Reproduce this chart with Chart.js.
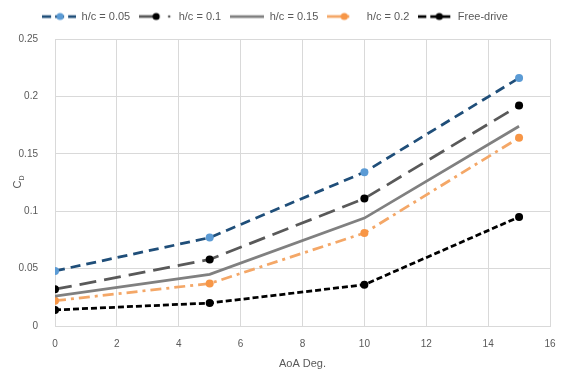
<!DOCTYPE html>
<html>
<head>
<meta charset="utf-8">
<script src="https://cdn.jsdelivr.net/npm/chart.js@4.4.1/dist/chart.umd.min.js"></script>
<style>
  html, body { margin: 0; padding: 0; background: #fff; }
  #wrap { width: 569px; height: 371px; position: relative; }
</style>
</head>
<body>
<div id="wrap"><canvas id="cdChart"></canvas></div>
<script>
// drag coefficient vs angle of attack, one series per gap ratio
const aoa = [0, 5, 10, 15];
const cdHc005 = [0.048, 0.077, 0.134, 0.216];
const cdHc01 = [0.032, 0.058, 0.111, 0.192];
const cdHc015 = [0.026, 0.045, 0.094, 0.174];
const cdHc02 = [0.022, 0.037, 0.081, 0.164];
const cdFree = [0.014, 0.020, 0.036, 0.095];
const seriesNames = ['h/c = 0.05', 'h/c = 0.1', 'h/c = 0.15', 'h/c = 0.2', 'Free-drive'];

const FONT = '"Liberation Sans", Arial, sans-serif';
const TEXT = '#595959';

function pts(ys){ return ys.map((y, i) => ({ x: aoa[i], y })); }

// little line+marker sample for the legend
function swatch(s){
  const c = document.createElement('canvas');
  c.width = 34; c.height = 12;
  const g = c.getContext('2d');
  g.strokeStyle = s.borderColor;
  g.lineWidth = s.borderWidth;
  g.setLineDash(s.legendDash || s.borderDash || []);
  g.beginPath(); g.moveTo(s.legendFrom || 0, 6); g.lineTo(s.legendTo || 34, 6); g.stroke();
  if (s.pointRadius) {
    g.fillStyle = s.pointBackgroundColor;
    g.beginPath(); g.arc(s.legendMarker, 6, 3.6, 0, Math.PI * 2); g.fill();
  }
  if (s.legendDot) {
    g.fillStyle = TEXT;
    g.beginPath(); g.arc(s.legendDot, 6, 1.3, 0, Math.PI * 2); g.fill();
  }
  return c;
}

const datasets = [
  { label: seriesNames[0], data: pts(cdHc005), borderColor: '#1F4E79', borderWidth: 2.75, borderDash: [10, 6],
    pointBackgroundColor: '#5B9BD5', legendDash: [9, 4], legendMarker: 18 },
  { label: seriesNames[1], data: pts(cdHc01), borderColor: '#595959', borderWidth: 2.75, borderDash: [17, 8],
    pointBackgroundColor: '#000', legendDash: [], legendTo: 20, legendMarker: 17, legendDot: 30 },
  { label: seriesNames[2], data: pts(cdHc015), borderColor: '#808080', borderWidth: 2.75, borderDash: [] },
  { label: seriesNames[3], data: pts(cdHc02), borderColor: '#F4A767', borderWidth: 2.75, borderDash: [11, 5, 3, 5],
    pointBackgroundColor: '#F79646', legendDash: [], legendTo: 22, legendMarker: 17 },
  { label: seriesNames[4], data: pts(cdFree), borderColor: '#000', borderWidth: 2.75, borderDash: [6, 3],
    pointBackgroundColor: '#000', legendDash: [8, 4], legendMarker: 21 }
];
datasets.forEach(d => {
  d.fill = false;
  d.tension = 0;
  d.pointRadius = d.pointBackgroundColor ? 4 : 0;
  d.pointHoverRadius = d.pointRadius;
  d.pointBorderWidth = 0;
  d.pointBorderColor = d.pointBackgroundColor;
});

// rotated "C" with subscript "D" for the y axis
const yTitle = {
  id: 'yTitle',
  afterDraw(chart){
    const { ctx, chartArea } = chart;
    const cy = (chartArea.top + chartArea.bottom) / 2;
    ctx.save();
    ctx.translate(21, cy);
    ctx.rotate(-Math.PI / 2);
    ctx.fillStyle = TEXT;
    ctx.textBaseline = 'alphabetic';
    ctx.font = '11px ' + FONT;
    const w = ctx.measureText('C').width;
    ctx.fillText('C', -w / 2 - 2, 0);
    ctx.font = '7px ' + FONT;
    ctx.fillText('D', w / 2 - 2, 3);
    ctx.restore();
  }
};

// extra room between the legend row and the plot
const legendGap = {
  id: 'legendGap',
  beforeInit(chart){
    const lg = chart.legend;
    if (!lg) return;
    const fit = lg.fit;
    lg.fit = function(){ fit.call(this); this.height += 7; };
  }
};

new Chart(document.getElementById('cdChart'), {
  type: 'line',
  data: { datasets },
  plugins: [yTitle, legendGap],
  options: {
    responsive: true,
    maintainAspectRatio: false,
    animation: false,
    layout: { padding: { top: 2, right: 19, left: 0, bottom: 0 } },
    plugins: {
      tooltip: { enabled: false },
      legend: {
        position: 'top',
        labels: {
          usePointStyle: true,
          pointStyleWidth: 34,
          padding: 9,
          color: TEXT,
          font: { family: FONT, size: 11 },
          generateLabels(chart){
            return chart.data.datasets.map((d, i) => ({
              text: d.label,
              pointStyle: swatch(d),
              fontColor: TEXT,
              lineWidth: 0,
              strokeStyle: 'transparent',
              fillStyle: 'transparent',
              datasetIndex: i
            }));
          }
        }
      }
    },
    scales: {
      x: {
        type: 'linear', min: 0, max: 16,
        ticks: { stepSize: 2, color: TEXT, font: { family: FONT, size: 10 }, padding: 12 },
        grid: { color: '#D9D9D9', drawTicks: false },
        border: { color: '#D9D9D9' },
        title: { display: true, text: 'AoA Deg.', color: TEXT, font: { family: FONT, size: 11 }, padding: { top: 4, bottom: 0 } },
        afterFit(s){ s.height = 45; }
      },
      y: {
        min: 0, max: 0.25,
        ticks: { stepSize: 0.05, color: TEXT, font: { family: FONT, size: 10 }, padding: 17,
                 callback: v => String(+v.toFixed(2)) },
        grid: { color: '#D9D9D9', drawTicks: false },
        border: { display: false },
        afterFit(s){ s.width = 55; }
      }
    }
  }
});
</script>
</body>
</html>
